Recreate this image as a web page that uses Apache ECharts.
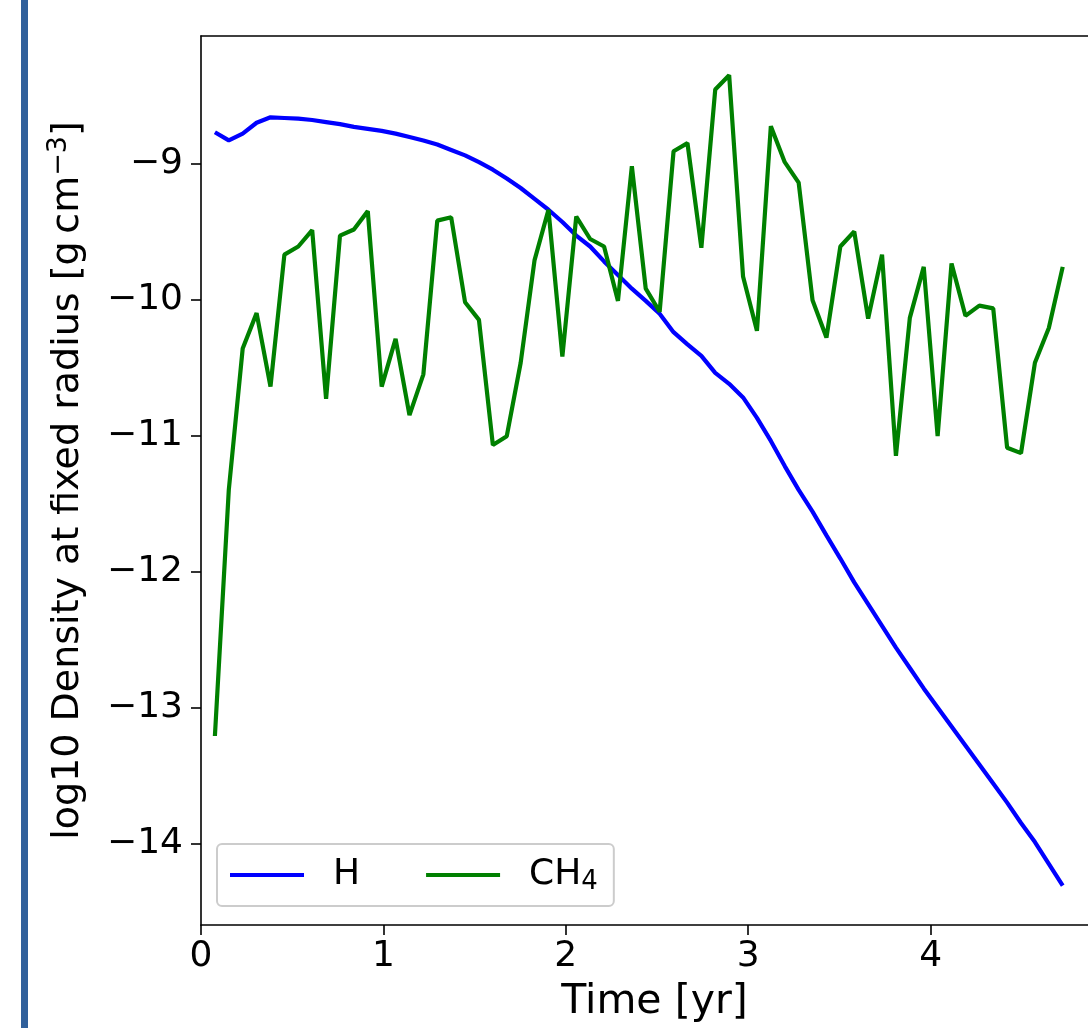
<!DOCTYPE html>
<html>
<head>
<meta charset="utf-8">
<script src="https://cdn.jsdelivr.net/npm/echarts@6/dist/echarts.min.js"></script>
<style>
html,body{margin:0;padding:0;background:#fff;}
#chart{width:1088px;height:1028px;}
</style>
</head>
<body>
<div id="chart"></div>
<script>
var timeYr = [0.0762,0.1524,0.2286,0.3048,0.381,0.4572,0.5334,0.6096,0.6858,0.762,
0.8382,0.9144,0.9906,1.0668,1.143,1.2192,1.2954,1.3716,1.4478,1.524,
1.6002,1.6764,1.7526,1.8288,1.905,1.9812,2.0574,2.1336,2.2098,2.286,
2.3622,2.4384,2.5146,2.5908,2.667,2.7432,2.8194,2.8956,2.9718,3.048,
3.1242,3.2004,3.2766,3.3528,3.429,3.5052,3.5814,3.6576,3.7338,3.81,
3.8862,3.9624,4.0386,4.1148,4.191,4.2672,4.3434,4.4196,4.4958,4.572,
4.6482,4.7244];

var densH = [-8.77,-8.83,-8.78,-8.70,-8.66,-8.665,-8.67,-8.68,-8.695,-8.71,
-8.73,-8.745,-8.76,-8.78,-8.805,-8.83,-8.86,-8.90,-8.94,-8.99,
-9.045,-9.11,-9.18,-9.26,-9.34,-9.43,-9.53,-9.61,-9.72,-9.82,
-9.92,-10.01,-10.105,-10.24,-10.33,-10.415,-10.54,-10.62,-10.72,-10.87,
-11.04,-11.225,-11.40,-11.56,-11.735,-11.905,-12.08,-12.24,-12.40,-12.56,
-12.71,-12.86,-13.00,-13.14,-13.28,-13.42,-13.56,-13.70,-13.85,-13.99,
-14.15,-14.31];

var densCH4 = [-13.21,-11.40,-10.36,-10.10,-10.64,-9.67,-9.61,-9.49,-10.73,-9.53,
-9.485,-9.35,-10.64,-10.29,-10.85,-10.55,-9.42,-9.395,-10.02,-10.15,
-11.07,-11.005,-10.465,-9.71,-9.34,-10.42,-9.39,-9.555,-9.61,-10.01,
-9.02,-9.92,-10.09,-8.91,-8.85,-9.62,-8.455,-8.35,-9.83,-10.23,
-8.725,-8.99,-9.14,-10.005,-10.28,-9.61,-9.50,-10.14,-9.67,-11.15,
-10.135,-9.76,-11.005,-9.735,-10.12,-10.045,-10.065,-11.09,-11.13,-10.465,
-10.21,-9.76];

var xTicks = [0, 1, 2, 3, 4];
var yTicks = [-14, -13, -12, -11, -10, -9];
var seriesNames = ['H', 'CH4'];
var xName = 'Time [yr]';
var yName = 'log10 Density at fixed radius [g\u2009cm{sup|\u22123}]';

function pairs(xs, ys) {
  return xs.map(function (x, i) { return [x, ys[i]]; });
}
function fmt(v) { return String(v).replace('-', '\u2212'); }

var FONT = 'DejaVu Sans';
var XMAX = 4.863;
var chart = echarts.init(document.getElementById('chart'), null, {renderer: 'canvas'});
chart.setOption({
  animation: false,
  backgroundColor: '#ffffff',
  textStyle: {fontFamily: FONT},
  graphic: [{
    type: 'rect', left: 21, top: 0,
    shape: {width: 7, height: 1028},
    style: {fill: '#30609b'}, z: 100
  }],
  grid: {left: 201, top: 36, right: 0, bottom: 103, show: false},
  legend: {
    left: 217, top: 844,
    orient: 'horizontal',
    data: seriesNames,
    icon: 'rect',
    itemWidth: 74, itemHeight: 4, itemGap: 66,
    padding: [11, 16, 11, 13],
    backgroundColor: 'rgba(255,255,255,0.8)',
    borderColor: '#cccccc', borderWidth: 2, borderRadius: 5,
    formatter: function (n) { return n === 'CH4' ? 'CH{sub|4}' : n; },
    textStyle: {fontFamily: FONT, fontSize: 36, color: '#000', padding: [0, 0, 0, 24], lineHeight: 40,
      rich: {sub: {fontFamily: FONT, fontSize: 26, color: '#000', padding: [14, 0, 0, 0]}}},
    selectedMode: false
  },
  xAxis: [{
    type: 'value', min: 0, max: XMAX, position: 'bottom',
    name: xName, nameLocation: 'middle', nameGap: 57,
    nameTextStyle: {fontFamily: FONT, fontSize: 41, color: '#000', padding: [0, 0, 0, 20]},
    axisLine: {show: true, onZero: false, lineStyle: {color: '#000', width: 1.6}},
    axisTick: {show: true, length: 10, lineStyle: {color: '#000', width: 1.6}, customValues: xTicks},
    axisLabel: {show: true, fontFamily: FONT, fontSize: 36, color: '#000', margin: 14,
                customValues: xTicks, formatter: fmt},
    splitLine: {show: false}
  }, {
    type: 'value', min: 0, max: XMAX, position: 'top',
    axisLine: {show: true, onZero: false, lineStyle: {color: '#000', width: 1.6}},
    axisTick: {show: false}, axisLabel: {show: false}, splitLine: {show: false}
  }],
  yAxis: {
    type: 'value', min: -14.6, max: -8.062,
    name: yName, nameLocation: 'middle', nameGap: 109, nameRotate: 90,
    nameTextStyle: {fontFamily: FONT, fontSize: 38, color: '#000',
      rich: {sup: {fontFamily: FONT, fontSize: 27, color: '#000', padding: [0, 0, 20, 0]}}},
    axisLine: {show: true, onZero: false, lineStyle: {color: '#000', width: 1.6}},
    axisTick: {show: true, length: 10, lineStyle: {color: '#000', width: 1.6}, customValues: yTicks},
    axisLabel: {show: true, fontFamily: FONT, fontSize: 36, color: '#000', margin: 18,
                customValues: yTicks, formatter: fmt},
    splitLine: {show: false}
  },
  series: [
    {name: seriesNames[0], type: 'line', xAxisIndex: 0, data: pairs(timeYr, densH),
     symbol: 'none', showSymbol: false, color: '#0000ff',
     lineStyle: {color: '#0000ff', width: 4.2}},
    {name: seriesNames[1], type: 'line', xAxisIndex: 0, data: pairs(timeYr, densCH4),
     symbol: 'none', showSymbol: false, color: '#008000',
     lineStyle: {color: '#008000', width: 4.2}}
  ]
});
</script>
</body>
</html>
